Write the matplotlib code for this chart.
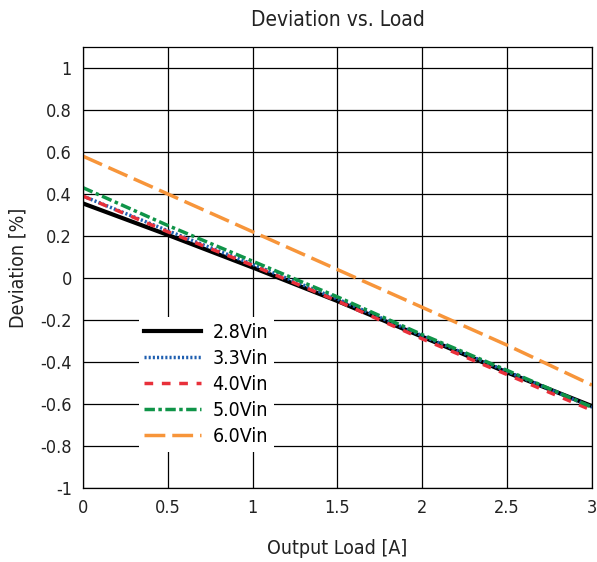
import matplotlib
matplotlib.use("Agg")
import matplotlib.pyplot as plt

plt.rcParams['font.family'] = ['DejaVu Sans']
plt.rcParams['font.stretch'] = 'condensed'

load = [0, 0.5, 1.0, 1.5, 2.0, 2.5, 3.0]
dev_28 = [0.355, 0.205, 0.05, -0.11, -0.28, -0.45, -0.61]
dev_33 = [0.39, 0.225, 0.065, -0.10, -0.275, -0.445, -0.615]
dev_40 = [0.39, 0.22, 0.06, -0.11, -0.29, -0.46, -0.63]
dev_50 = [0.43, 0.25, 0.08, -0.09, -0.27, -0.44, -0.615]
dev_60 = [0.58, 0.40, 0.22, 0.04, -0.14, -0.32, -0.51]

fig = plt.figure(figsize=(5.97, 5.62), dpi=100)
ax = fig.add_axes([0.139, 0.1317, 0.8526, 0.7847])

ax.plot(load, dev_28, color='black', lw=3, label='2.8Vin')
ax.plot(load, dev_33, color='#1f5fb0', lw=2.5, ls=(0, (0.6, 0.6)), label='3.3Vin')
ax.plot(load, dev_40, color='#e8303a', lw=2.5, ls=(0, (2.5, 2.5)), label='4.0Vin')
ax.plot(load, dev_50, color='#0f9448', lw=2.5, ls=(0, (3, 1, 1, 1)), label='5.0Vin')
ax.plot(load, dev_60, color='#f7953a', lw=2.5, ls=(0, (6, 2)), label='6.0Vin')

ax.set_xlim(0, 3)
ax.set_ylim(-1, 1.1)
ax.set_xticks([0, 0.5, 1, 1.5, 2, 2.5, 3])
ax.set_xticklabels(['0', '0.5', '1', '1.5', '2', '2.5', '3'])
ax.set_yticks([-1, -0.8, -0.6, -0.4, -0.2, 0, 0.2, 0.4, 0.6, 0.8, 1])
ax.set_yticklabels(['-1', '-0.8', '-0.6', '-0.4', '-0.2', '0', '0.2', '0.4', '0.6', '0.8', '1'])
ax.grid(True, color='black', lw=0.9)
ax.set_axisbelow(True)
ax.tick_params(length=0, labelsize=13, colors='#222222', pad=8)
for s in ax.spines.values():
    s.set_linewidth(0.9)

ax.set_title('Deviation vs. Load', fontsize=15, color='#222222', pad=15)
ax.set_xlabel('Output Load [A]', fontsize=14, color='#222222', labelpad=16)
ax.set_ylabel('Deviation [%]', fontsize=14, color='#222222', labelpad=9)

leg = ax.legend(loc='lower left', bbox_to_anchor=(0.09, 0.06), frameon=True,
                fontsize=14, handlelength=2.9, handletextpad=0.6, labelspacing=0.36,
                borderpad=0.3, fancybox=False)
leg.get_frame().set_edgecolor('none')
leg.get_frame().set_facecolor('white')
leg.get_frame().set_alpha(1)

fig.savefig('out.png', dpi=100)
